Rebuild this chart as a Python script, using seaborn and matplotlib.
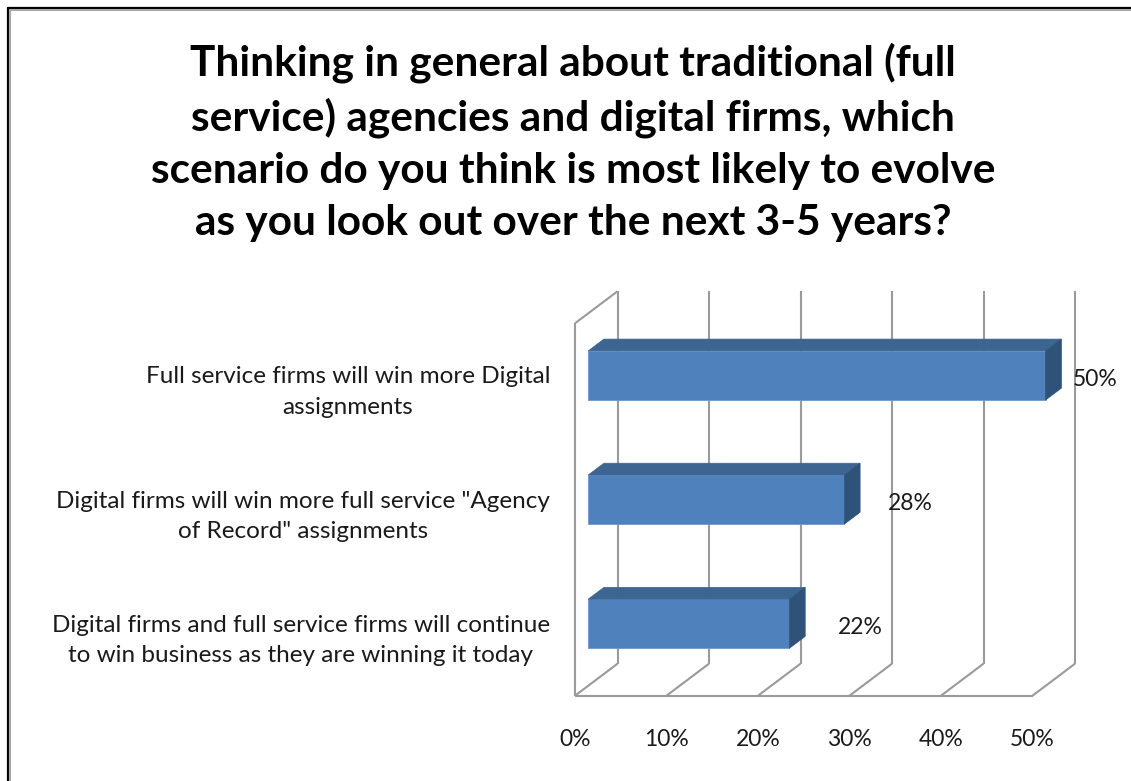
import matplotlib
matplotlib.use("Agg")
import matplotlib.pyplot as plt
import seaborn as sns
import pandas as pd
from matplotlib.patches import Polygon
from matplotlib.lines import Line2D
from matplotlib.transforms import Affine2D

# ---- data -------------------------------------------------------------
categories = [
    "Full service firms will win more Digital\nassignments",
    "Digital firms will win more full service \"Agency\nof Record\" assignments",
    "Digital firms and full service firms will continue\nto win business as they are winning it today",
]
shares = [50, 28, 22]
ticks = [0, 10, 20, 30, 40, 50]
tick_labels = ["0%", "10%", "20%", "30%", "40%", "50%"]
title = ("Thinking in general about traditional (full\n"
         "service) agencies and digital firms, which\n"
         "scenario do you think is most likely to evolve\n"
         "as you look out over the next 3-5 years?")

# ---- style ------------------------------------------------------------
sns.set_style("white")
plt.rcParams["font.family"] = ["Lato", "DejaVu Sans"]

FRONT = "#4F81BD"
TOP = "#3D6591"
SIDE = "#2F5279"
GRID = "#9A9A9A"
TEXT = "#1a1a1a"

W, H = 1131, 781
fig = plt.figure(figsize=(W / 100, H / 100), dpi=100)
fig.patch.set_facecolor("white")

# front plane of the 3-D box, in pixels
left_px, right_px = 575.0, 1032.5
top_px, bottom_px = 323.3, 695.7
ax = fig.add_axes([left_px / W, 1 - bottom_px / H,
                   (right_px - left_px) / W, (bottom_px - top_px) / H])
ax.set_xlim(0, 50)
ax.set_ylim(2.5, -0.5)

px_per_x = (right_px - left_px) / 50.0
px_per_y = (bottom_px - top_px) / 3.0
DX = 42.5 / px_per_x        # depth of the box along x (data units)
DY = -32.0 / px_per_y       # depth of the box along y (data units, upward)
Y0, Y1 = -0.5, 2.5

line_kw = dict(color=GRID, lw=1.5, zorder=0.5, clip_on=False,
               solid_capstyle="butt")

# back wall gridlines and floor diagonals
for t in ticks:
    ax.plot([t + DX, t + DX], [Y0 + DY, Y1 + DY], **line_kw)
    ax.plot([t, t + DX], [Y1, Y1 + DY], **line_kw)
# floor front edge and side wall
ax.plot([0, 50], [Y1, Y1], **line_kw)
ax.plot([0, 0], [Y0, Y1], **line_kw)
ax.plot([0, DX], [Y0, Y0 + DY], **line_kw)

# ---- bars ---------------------------------------------------------------
df = pd.DataFrame({"scenario": categories, "share": shares})
sns.barplot(data=df, x="share", y="scenario", orient="h", width=0.395,
            color=FRONT, saturation=1, edgecolor="#6F98CC", linewidth=0.6,
            ax=ax, zorder=2)

F0 = 0.31    # front face position within the depth
FD = 0.37    # bar thickness along the depth
shift = Affine2D().translate(F0 * DX * px_per_x, -F0 * DY * px_per_y)
for patch in ax.patches:
    patch.set_transform(ax.transData + shift)
    patch.set_clip_on(False)
    x0, y0 = patch.get_x(), patch.get_y()
    w, h = patch.get_width(), patch.get_height()
    xl, xr = x0 + F0 * DX, x0 + w + F0 * DX
    yt, yb = y0 + F0 * DY, y0 + h + F0 * DY
    ddx, ddy = FD * DX, FD * DY
    ax.add_patch(Polygon([(xl, yt), (xl + ddx, yt + ddy), (xr + ddx, yt + ddy), (xr, yt)],
                         closed=True, facecolor=TOP, edgecolor=TOP, lw=0.5,
                         zorder=2, clip_on=False))
    ax.add_patch(Polygon([(xr, yt), (xr + ddx, yt + ddy), (xr + ddx, yb + ddy), (xr, yb)],
                         closed=True, facecolor=SIDE, edgecolor=SIDE, lw=0.5,
                         zorder=2, clip_on=False))

# value labels, set a little past the end of each bar
for i, v in enumerate(shares):
    ax.text(0.914 * v + 11.1, i + F0 * DY + 0.03, f"{v}%", ha="center", va="center",
            fontsize=16.5, color=TEXT, clip_on=False)

# ---- axes text ------------------------------------------------------------
ax.set_xticks(ticks)
ax.set_xticklabels(tick_labels, fontsize=16.5, color=TEXT)
ax.set_yticks(range(len(categories)))
ax.set_yticklabels(categories, fontsize=17.5, color=TEXT,
                   linespacing=1.55, multialignment="center")
ax.tick_params(axis="x", length=0, pad=24)
ax.tick_params(axis="y", length=0, pad=18)
ax.set_xlabel("")
ax.set_ylabel("")
for s in ax.spines.values():
    s.set_visible(False)
ax.patch.set_alpha(0)

fig.text(573 / W, 1 - 142 / H, title, ha="center", va="center",
         fontsize=30.5, fontweight="bold", color="black", linespacing=1.45)

# chart frame (top and left edges)
fig.add_artist(Line2D([7.5 / W, 7.5 / W], [0, 1 - 7.5 / H], color="black", lw=1.6,
                      transform=fig.transFigure))
fig.add_artist(Line2D([7.5 / W, 1], [1 - 7.5 / H, 1 - 7.5 / H], color="black", lw=1.6,
                      transform=fig.transFigure))
fig.add_artist(Line2D([10 / W, 10 / W], [0, 1 - 10 / H], color="#A8A8A8", lw=1.5,
                      transform=fig.transFigure))
fig.add_artist(Line2D([10 / W, 1], [1 - 10 / H, 1 - 10 / H], color="#A8A8A8", lw=1.5,
                      transform=fig.transFigure))

fig.savefig("out.png", dpi=100, facecolor="white")
